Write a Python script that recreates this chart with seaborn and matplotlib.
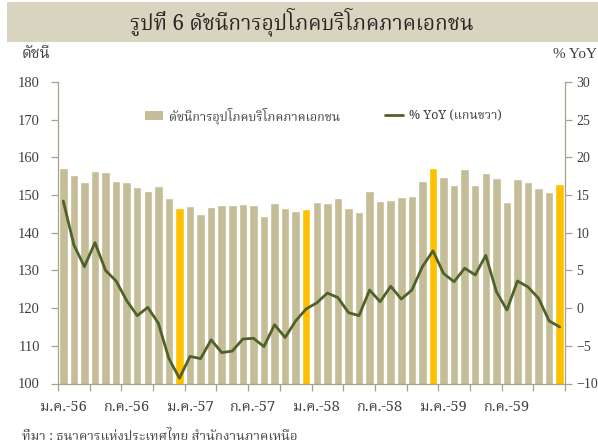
import numpy as np
import pandas as pd
import matplotlib
matplotlib.use("Agg")
import matplotlib.pyplot as plt
from matplotlib import font_manager as fm
from matplotlib.patches import Patch, Rectangle
from matplotlib.lines import Line2D
import seaborn as sns

# ---------------- data ----------------
years = ["56", "57", "58", "59"]
month_abbr = ["ม.ค.", "ก.พ.", "มี.ค.", "เม.ย.", "พ.ค.", "มิ.ย.",
              "ก.ค.", "ส.ค.", "ก.ย.", "ต.ค.", "พ.ย.", "ธ.ค."]
months = [f"{m}-{y}" for y in years for m in month_abbr]

index_values = [157.1, 155.3, 153.5, 156.4, 156.1, 153.7, 153.5, 152.2, 151.2, 152.5, 149.1, 146.6,
                147.1, 144.9, 146.9, 147.3, 147.3, 147.5, 147.4, 144.4, 147.9, 146.5, 145.8, 146.2,
                148.1, 147.9, 149.1, 146.5, 145.5, 151.2, 148.3, 148.7, 149.4, 149.8, 153.6, 157.3,
                154.8, 152.8, 156.9, 152.8, 155.9, 154.6, 148.1, 154.2, 153.5, 151.8, 150.9, 153.0]

yoy_values = [14.2, 8.4, 5.5, 8.7, 5.0, 3.6, 1.0, -1.0, 0.1, -2.0, -6.7, -9.3,
              -6.4, -6.7, -4.2, -5.9, -5.7, -4.1, -4.0, -5.1, -2.2, -3.9, -1.7, -0.1,
              0.7, 2.0, 1.4, -0.6, -1.0, 2.4, 0.85, 2.9, 1.2, 2.4, 5.5, 7.6,
              4.6, 3.5, 5.3, 4.4, 7.0, 2.2, -0.25, 3.6, 2.8, 1.3, -1.7, -2.5]

xtick_labels = ["ม.ค.-56", "ก.ค.-56", "ม.ค.-57", "ก.ค.-57",
                "ม.ค.-58", "ก.ค.-58", "ม.ค.-59", "ก.ค.-59"]

title_text = "รูปที่ 6 ดัชนีการอุปโภคบริโภคภาคเอกชน"
left_label = "ดัชนี"
right_label = "% YoY"
bar_legend = "ดัชนีการอุปโภคบริโภคภาคเอกชน"
line_legend = "% YoY (แกนขวา)"
source_text = "ที่มา : ธนาคารแห่งประเทศไทย สำนักงานภาคเหนือ"

# ---------------- fonts ----------------
def find_thai_fonts():
    try:
        from fontTools.ttLib import TTFont
    except Exception:
        return []
    found = []
    for f in fm.fontManager.ttflist:
        try:
            tt = TTFont(f.fname, fontNumber=0, lazy=True)
            cmap = tt.getBestCmap() or {}
            if 0x0E14 in cmap and 0x0E35 in cmap and 0x0E4C in cmap:
                if f.name not in found:
                    found.append(f.name)
        except Exception:
            pass
    return found

thai_fonts = find_thai_fonts()
pref = ["Norasi", "Kinnari", "Noto Serif Thai", "TH Sarabun New", "Sarabun",
        "Garuda", "Loma", "Noto Sans Thai", "Noto Sans Thai UI", "Laksaman", "Waree", "Umpush"]
ordered = [p for p in pref if p in thai_fonts] + [f for f in thai_fonts if f not in pref]
thai_family = ordered[:1] + ["Liberation Serif", "DejaVu Sans"]
num_family = ["Liberation Serif", "DejaVu Serif"]

sns.set_theme(style="ticks")
plt.rcParams["font.family"] = thai_family

# ---------------- colours ----------------
tan = "#c4bd97"
gold = "#ffc000"
green = "#4f6228"
axis_col = "#a6a38d"
text_col = "#404040"

df = pd.DataFrame({
    "month": months,
    "index": index_values,
    "yoy": yoy_values,
})
df["pos"] = np.arange(len(df))
df["dec"] = df["month"].str.startswith("ธ.ค.")

fig = plt.figure(figsize=(5.98, 4.46), dpi=100)
fig.patch.set_facecolor("white")

# title band
fig.patches.append(Rectangle((7 / 598, 1 - 42 / 446), 1 - 7 / 598, 40 / 446,
                             transform=fig.transFigure, facecolor="#d8d4bf",
                             edgecolor="none", zorder=0))
fig.text(0.505, 1 - 22 / 446, title_text, ha="center", va="center",
         fontsize=15, color="#262626")

ax = fig.add_axes([58 / 598, 1 - 383.5 / 446, 507 / 598, 301.5 / 446])
sns.barplot(data=df, x="pos", y="index", hue="dec",
            palette={False: tan, True: gold}, dodge=False, legend=False,
            width=0.8, saturation=1, ax=ax)
ax.set_ylim(100, 180)
ax.set_xlim(-0.5, len(df) - 0.5)
ax.set_yticks(np.arange(100, 181, 10))
ax.set_xlabel("")
ax.set_ylabel("")

# x ticks: labels every 6 months, tick marks every 3 months on boundaries
label_pos = df["pos"][df["month"].isin(xtick_labels)].to_numpy()
ax.set_xticks(label_pos)
ax.set_xticklabels(xtick_labels, fontsize=10.5, color=text_col)
ax.set_xticks(np.arange(-0.5, len(df), 3), minor=True)
ax.tick_params(axis="x", which="major", length=0, pad=12)
ax.tick_params(axis="x", which="minor", length=5, color=axis_col, width=0.9)
ax.tick_params(axis="y", length=5, color=axis_col, width=0.9, pad=8,
               labelsize=10.5, labelcolor=text_col)
for lbl in ax.get_yticklabels():
    lbl.set_family(num_family)

ax2 = ax.twinx()
sns.lineplot(data=df, x="pos", y="yoy", color=green, linewidth=2.0, ax=ax2)
ax2.set_ylim(-10, 30)
ax2.set_yticks(np.arange(-10, 31, 5))
ax2.set_xlim(-0.5, len(df) - 0.5)
ax2.set_ylabel("")
ax2.set_xlabel("")
ax2.tick_params(axis="y", length=5, color=axis_col, width=0.9, pad=3,
                labelsize=10, labelcolor=text_col)
for lbl in ax2.get_yticklabels():
    lbl.set_family(num_family)

for a in (ax, ax2):
    a.spines["top"].set_visible(False)
    for s in ("left", "right", "bottom"):
        a.spines[s].set_color(axis_col)
        a.spines[s].set_linewidth(0.9)
ax.spines["right"].set_visible(False)
ax2.spines["left"].set_visible(False)
ax2.spines["bottom"].set_visible(False)

handles = [Patch(facecolor=tan, edgecolor="none"),
           Line2D([0], [0], color=green, linewidth=2.0)]
ax2.legend(handles, [bar_legend, line_legend], loc="center left",
           bbox_to_anchor=(0.15, 0.89), ncol=2, frameon=False,
           fontsize=9, labelcolor=text_col, handlelength=1.4,
           handletextpad=0.5, columnspacing=3.6)

fig.text(22 / 598, 1 - 55 / 446, left_label, ha="left", va="center",
         fontsize=11, color=text_col)
fig.text(597 / 598, 1 - 55 / 446, right_label, ha="right", va="center",
         fontsize=11, color=text_col, family=num_family)
fig.text(22 / 598, 1 - 437 / 446, source_text, ha="left", va="center",
         fontsize=9.5, color=text_col)

fig.savefig("out.png", dpi=100, facecolor="white")
